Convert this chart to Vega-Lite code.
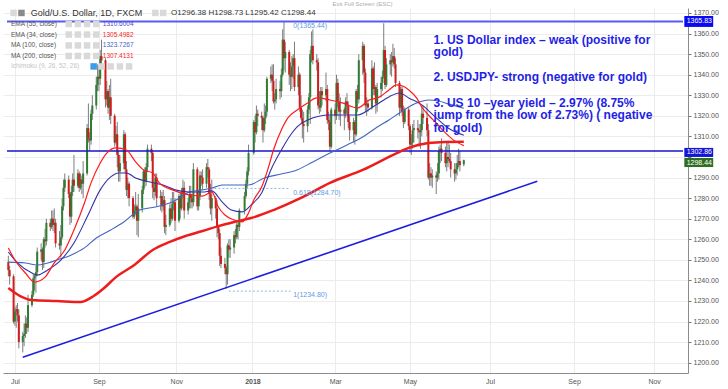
{
"$schema": "https://vega.github.io/schema/vega-lite/v6.json",
"width": 685, "height": 365,
"autosize": {"type": "none"},
"padding": {"left": 3, "top": 8, "right": 40, "bottom": 16},
"background": "#ffffff",
"config": {"view": {"stroke": null}, "font": "Liberation Sans", "axis": {"labelOverlap": false}},
"resolve": {"scale": {"color": "independent"}},
"encoding": {
"x": {"field": "d", "type": "temporal",
"scale": {"type": "utc", "domain": [{"year":2017,"month":6,"date":28,"hours":18,"utc":true},{"year":2018,"month":11,"date":25,"utc":true}], "nice": false},
"axis": {"orient": "bottom", "title": null,
"values": [{"year":2017,"month":7,"date":4,"utc":true},{"year":2017,"month":9,"date":6,"utc":true},{"year":2017,"month":11,"date":4,"utc":true},{"year":2018,"month":1,"date":1,"utc":true},{"year":2018,"month":3,"date":5,"utc":true},{"year":2018,"month":5,"date":1,"utc":true},{"year":2018,"month":7,"date":1,"utc":true},{"year":2018,"month":9,"date":3,"utc":true},{"year":2018,"month":11,"date":3,"utc":true}],
"labelExpr": "utcmonth(datum.value) == 0 ? utcFormat(datum.value, '%Y') : utcFormat(datum.value, '%b')",
"labelFontWeight": {"condition": {"test": "utcmonth(datum.value) == 0", "value": "bold"}, "value": "normal"},
"grid": true, "gridColor": "#ececec", "domainColor": "#8c8c8c", "ticks": false,
"labelPadding": 4, "labelFontSize": 7, "labelColor": "#555555", "labelFlush": false, "labelOverlap": false}},
"y": {"field": "p", "type": "quantitative",
"scale": {"domain": [1195, 1372.4], "nice": false, "zero": false},
"axis": {"orient": "right", "title": null,
"values": [1200,1210,1220,1230,1240,1250,1260,1270,1280,1290,1300,1310,1320,1330,1340,1350,1360,1370],
"labelExpr": "datum.value == 1300 ? '' : format(datum.value, '.2f')",
"grid": true, "gridColor": "#ececec", "domainColor": "#8c8c8c",
"tickColor": "#777777", "tickSize": 3, "labelPadding": 2, "labelFontSize": 7, "labelColor": "#555555", "labelFlush": false, "labelOverlap": false}}
},
"datasets": {
"c": [
{"d":"2017-06-29","o":1249,"h":1252,"l":1242,"c":1245},
{"d":"2017-06-30","o":1245,"h":1247,"l":1238,"c":1242},
{"d":"2017-07-03","o":1242,"h":1243,"l":1219,"c":1220},
{"d":"2017-07-04","o":1220,"h":1227,"l":1218,"c":1225},
{"d":"2017-07-05","o":1225,"h":1228,"l":1217,"c":1226},
{"d":"2017-07-06","o":1226,"h":1229,"l":1220,"c":1223},
{"d":"2017-07-07","o":1223,"h":1226,"l":1207,"c":1210},
{"d":"2017-07-10","o":1210,"h":1215,"l":1205,"c":1213},
{"d":"2017-07-11","o":1213,"h":1219,"l":1208,"c":1214},
{"d":"2017-07-12","o":1214,"h":1223,"l":1212,"c":1219},
{"d":"2017-07-13","o":1219,"h":1222,"l":1214,"c":1217},
{"d":"2017-07-14","o":1217,"h":1233,"l":1215,"c":1228},
{"d":"2017-07-17","o":1228,"h":1235,"l":1227,"c":1233},
{"d":"2017-07-18","o":1233,"h":1243,"l":1232,"c":1241},
{"d":"2017-07-19","o":1241,"h":1243,"l":1235,"c":1242},
{"d":"2017-07-20","o":1242,"h":1247,"l":1234,"c":1244},
{"d":"2017-07-21","o":1244,"h":1256,"l":1242,"c":1254},
{"d":"2017-07-24","o":1254,"h":1258,"l":1250,"c":1255},
{"d":"2017-07-25","o":1255,"h":1256,"l":1245,"c":1249},
{"d":"2017-07-26","o":1249,"h":1261,"l":1246,"c":1260},
{"d":"2017-07-27","o":1260,"h":1265,"l":1256,"c":1259},
{"d":"2017-07-28","o":1259,"h":1270,"l":1257,"c":1268},
{"d":"2017-07-31","o":1268,"h":1270,"l":1264,"c":1266},
{"d":"2017-08-01","o":1266,"h":1274,"l":1265,"c":1270},
{"d":"2017-08-02","o":1270,"h":1274,"l":1264,"c":1267},
{"d":"2017-08-03","o":1267,"h":1275,"l":1263,"c":1268},
{"d":"2017-08-04","o":1268,"h":1270,"l":1256,"c":1258},
{"d":"2017-08-07","o":1258,"h":1264,"l":1255,"c":1257},
{"d":"2017-08-08","o":1257,"h":1267,"l":1251,"c":1261},
{"d":"2017-08-09","o":1261,"h":1280,"l":1260,"c":1276},
{"d":"2017-08-10","o":1276,"h":1289,"l":1274,"c":1285},
{"d":"2017-08-11","o":1285,"h":1292,"l":1283,"c":1289},
{"d":"2017-08-14","o":1289,"h":1291,"l":1280,"c":1282},
{"d":"2017-08-15","o":1282,"h":1283,"l":1267,"c":1271},
{"d":"2017-08-16","o":1271,"h":1286,"l":1268,"c":1283},
{"d":"2017-08-17","o":1283,"h":1292,"l":1281,"c":1289},
{"d":"2017-08-18","o":1289,"h":1301,"l":1283,"c":1286},
{"d":"2017-08-21","o":1286,"h":1294,"l":1285,"c":1292},
{"d":"2017-08-22","o":1292,"h":1293,"l":1283,"c":1285},
{"d":"2017-08-23","o":1285,"h":1292,"l":1284,"c":1289},
{"d":"2017-08-24","o":1289,"h":1291,"l":1282,"c":1287},
{"d":"2017-08-25","o":1287,"h":1298,"l":1280,"c":1292},
{"d":"2017-08-28","o":1292,"h":1316,"l":1291,"c":1314},
{"d":"2017-08-29","o":1314,"h":1326,"l":1307,"c":1309},
{"d":"2017-08-30","o":1309,"h":1312,"l":1303,"c":1308},
{"d":"2017-08-31","o":1308,"h":1323,"l":1306,"c":1321},
{"d":"2017-09-01","o":1321,"h":1330,"l":1318,"c":1325},
{"d":"2017-09-04","o":1325,"h":1339,"l":1323,"c":1335},
{"d":"2017-09-05","o":1335,"h":1345,"l":1332,"c":1339},
{"d":"2017-09-06","o":1339,"h":1344,"l":1332,"c":1338},
{"d":"2017-09-07","o":1338,"h":1352,"l":1335,"c":1349},
{"d":"2017-09-08","o":1349,"h":1357,"l":1343,"c":1347},
{"d":"2017-09-11","o":1347,"h":1348,"l":1324,"c":1328},
{"d":"2017-09-12","o":1328,"h":1337,"l":1325,"c":1332},
{"d":"2017-09-13","o":1332,"h":1333,"l":1321,"c":1324},
{"d":"2017-09-14","o":1324,"h":1335,"l":1318,"c":1329},
{"d":"2017-09-15","o":1329,"h":1338,"l":1316,"c":1320},
{"d":"2017-09-18","o":1320,"h":1321,"l":1305,"c":1307},
{"d":"2017-09-19","o":1307,"h":1315,"l":1306,"c":1311},
{"d":"2017-09-20","o":1311,"h":1317,"l":1295,"c":1301},
{"d":"2017-09-21","o":1301,"h":1303,"l":1288,"c":1293},
{"d":"2017-09-22","o":1293,"h":1301,"l":1288,"c":1297},
{"d":"2017-09-25","o":1297,"h":1313,"l":1294,"c":1311},
{"d":"2017-09-26","o":1311,"h":1312,"l":1292,"c":1294},
{"d":"2017-09-27","o":1294,"h":1298,"l":1281,"c":1284},
{"d":"2017-09-28","o":1284,"h":1290,"l":1280,"c":1287},
{"d":"2017-09-29","o":1287,"h":1288,"l":1276,"c":1280},
{"d":"2017-10-02","o":1280,"h":1281,"l":1270,"c":1271},
{"d":"2017-10-03","o":1271,"h":1277,"l":1270,"c":1274},
{"d":"2017-10-04","o":1274,"h":1283,"l":1272,"c":1276},
{"d":"2017-10-05","o":1276,"h":1277,"l":1262,"c":1269},
{"d":"2017-10-06","o":1269,"h":1282,"l":1261,"c":1275},
{"d":"2017-10-09","o":1275,"h":1286,"l":1273,"c":1284},
{"d":"2017-10-10","o":1284,"h":1294,"l":1282,"c":1293},
{"d":"2017-10-11","o":1293,"h":1295,"l":1285,"c":1288},
{"d":"2017-10-12","o":1288,"h":1297,"l":1286,"c":1295},
{"d":"2017-10-13","o":1295,"h":1306,"l":1293,"c":1304},
{"d":"2017-10-16","o":1304,"h":1306,"l":1298,"c":1302},
{"d":"2017-10-17","o":1302,"h":1303,"l":1280,"c":1285},
{"d":"2017-10-18","o":1285,"h":1288,"l":1279,"c":1283},
{"d":"2017-10-19","o":1283,"h":1292,"l":1281,"c":1290},
{"d":"2017-10-20","o":1290,"h":1292,"l":1276,"c":1280},
{"d":"2017-10-23","o":1280,"h":1284,"l":1274,"c":1281},
{"d":"2017-10-24","o":1281,"h":1283,"l":1273,"c":1276},
{"d":"2017-10-25","o":1276,"h":1284,"l":1274,"c":1279},
{"d":"2017-10-26","o":1279,"h":1281,"l":1263,"c":1266},
{"d":"2017-10-27","o":1266,"h":1272,"l":1262,"c":1267},
{"d":"2017-10-30","o":1267,"h":1277,"l":1266,"c":1275},
{"d":"2017-10-31","o":1275,"h":1280,"l":1268,"c":1270},
{"d":"2017-11-01","o":1270,"h":1283,"l":1269,"c":1277},
{"d":"2017-11-02","o":1277,"h":1283,"l":1274,"c":1278},
{"d":"2017-11-03","o":1278,"h":1280,"l":1264,"c":1269},
{"d":"2017-11-06","o":1269,"h":1282,"l":1268,"c":1281},
{"d":"2017-11-07","o":1281,"h":1283,"l":1270,"c":1275},
{"d":"2017-11-08","o":1275,"h":1285,"l":1274,"c":1282},
{"d":"2017-11-09","o":1282,"h":1289,"l":1280,"c":1285},
{"d":"2017-11-10","o":1285,"h":1288,"l":1270,"c":1274},
{"d":"2017-11-13","o":1274,"h":1280,"l":1272,"c":1278},
{"d":"2017-11-14","o":1278,"h":1286,"l":1275,"c":1282},
{"d":"2017-11-15","o":1282,"h":1286,"l":1275,"c":1280},
{"d":"2017-11-16","o":1280,"h":1282,"l":1275,"c":1278},
{"d":"2017-11-17","o":1278,"h":1297,"l":1276,"c":1294},
{"d":"2017-11-20","o":1294,"h":1295,"l":1274,"c":1276},
{"d":"2017-11-21","o":1276,"h":1284,"l":1274,"c":1281},
{"d":"2017-11-22","o":1281,"h":1293,"l":1279,"c":1291},
{"d":"2017-11-23","o":1291,"h":1293,"l":1286,"c":1290},
{"d":"2017-11-24","o":1290,"h":1294,"l":1284,"c":1287},
{"d":"2017-11-27","o":1287,"h":1297,"l":1285,"c":1295},
{"d":"2017-11-28","o":1295,"h":1299,"l":1290,"c":1294},
{"d":"2017-11-29","o":1294,"h":1295,"l":1279,"c":1282},
{"d":"2017-11-30","o":1282,"h":1287,"l":1272,"c":1275},
{"d":"2017-12-01","o":1275,"h":1289,"l":1269,"c":1280},
{"d":"2017-12-04","o":1280,"h":1281,"l":1270,"c":1275},
{"d":"2017-12-05","o":1275,"h":1279,"l":1261,"c":1266},
{"d":"2017-12-06","o":1266,"h":1267,"l":1260,"c":1263},
{"d":"2017-12-07","o":1263,"h":1265,"l":1247,"c":1252},
{"d":"2017-12-08","o":1252,"h":1256,"l":1246,"c":1248},
{"d":"2017-12-11","o":1248,"h":1251,"l":1243,"c":1246},
{"d":"2017-12-12","o":1246,"h":1247,"l":1236,"c":1243},
{"d":"2017-12-13","o":1243,"h":1258,"l":1238,"c":1257},
{"d":"2017-12-14","o":1257,"h":1260,"l":1251,"c":1255},
{"d":"2017-12-15","o":1255,"h":1260,"l":1251,"c":1256},
{"d":"2017-12-18","o":1256,"h":1264,"l":1253,"c":1262},
{"d":"2017-12-19","o":1262,"h":1265,"l":1258,"c":1261},
{"d":"2017-12-20","o":1261,"h":1268,"l":1260,"c":1267},
{"d":"2017-12-21","o":1267,"h":1269,"l":1260,"c":1266},
{"d":"2017-12-22","o":1266,"h":1275,"l":1264,"c":1274},
{"d":"2017-12-26","o":1274,"h":1283,"l":1272,"c":1281},
{"d":"2017-12-27","o":1281,"h":1289,"l":1280,"c":1287},
{"d":"2017-12-28","o":1287,"h":1295,"l":1285,"c":1293},
{"d":"2017-12-29","o":1293,"h":1306,"l":1291,"c":1302},
{"d":"2018-01-02","o":1302,"h":1318,"l":1301,"c":1317},
{"d":"2018-01-03","o":1317,"h":1320,"l":1307,"c":1312},
{"d":"2018-01-04","o":1312,"h":1325,"l":1311,"c":1321},
{"d":"2018-01-05","o":1321,"h":1323,"l":1315,"c":1320},
{"d":"2018-01-08","o":1320,"h":1322,"l":1313,"c":1319},
{"d":"2018-01-09","o":1319,"h":1320,"l":1307,"c":1313},
{"d":"2018-01-10","o":1313,"h":1326,"l":1312,"c":1319},
{"d":"2018-01-11","o":1319,"h":1325,"l":1316,"c":1322},
{"d":"2018-01-12","o":1322,"h":1339,"l":1320,"c":1338},
{"d":"2018-01-15","o":1338,"h":1344,"l":1336,"c":1340},
{"d":"2018-01-16","o":1340,"h":1345,"l":1332,"c":1337},
{"d":"2018-01-17","o":1337,"h":1345,"l":1326,"c":1327},
{"d":"2018-01-18","o":1327,"h":1331,"l":1323,"c":1328},
{"d":"2018-01-19","o":1328,"h":1338,"l":1326,"c":1333},
{"d":"2018-01-22","o":1333,"h":1337,"l":1328,"c":1332},
{"d":"2018-01-23","o":1332,"h":1343,"l":1329,"c":1340},
{"d":"2018-01-24","o":1340,"h":1362,"l":1339,"c":1357},
{"d":"2018-01-25","o":1357,"h":1366,"l":1342,"c":1348},
{"d":"2018-01-26","o":1348,"h":1356,"l":1341,"c":1351},
{"d":"2018-01-29","o":1351,"h":1352,"l":1335,"c":1340},
{"d":"2018-01-30","o":1340,"h":1346,"l":1332,"c":1339},
{"d":"2018-01-31","o":1339,"h":1349,"l":1333,"c":1344},
{"d":"2018-02-01","o":1344,"h":1350,"l":1338,"c":1348},
{"d":"2018-02-02","o":1348,"h":1356,"l":1332,"c":1334},
{"d":"2018-02-05","o":1334,"h":1344,"l":1330,"c":1340},
{"d":"2018-02-06","o":1340,"h":1341,"l":1322,"c":1324},
{"d":"2018-02-07","o":1324,"h":1330,"l":1318,"c":1319},
{"d":"2018-02-08","o":1319,"h":1323,"l":1309,"c":1316},
{"d":"2018-02-09","o":1316,"h":1322,"l":1307,"c":1315},
{"d":"2018-02-12","o":1315,"h":1325,"l":1312,"c":1323},
{"d":"2018-02-13","o":1323,"h":1331,"l":1321,"c":1329},
{"d":"2018-02-14","o":1329,"h":1352,"l":1316,"c":1350},
{"d":"2018-02-15","o":1350,"h":1361,"l":1346,"c":1354},
{"d":"2018-02-16","o":1354,"h":1362,"l":1345,"c":1347},
{"d":"2018-02-19","o":1347,"h":1350,"l":1342,"c":1346},
{"d":"2018-02-20","o":1346,"h":1348,"l":1323,"c":1325},
{"d":"2018-02-21","o":1325,"h":1332,"l":1321,"c":1324},
{"d":"2018-02-22","o":1324,"h":1334,"l":1322,"c":1332},
{"d":"2018-02-23","o":1332,"h":1334,"l":1325,"c":1330},
{"d":"2018-02-26","o":1330,"h":1341,"l":1327,"c":1333},
{"d":"2018-02-27","o":1333,"h":1335,"l":1316,"c":1318},
{"d":"2018-02-28","o":1318,"h":1322,"l":1313,"c":1317},
{"d":"2018-03-01","o":1317,"h":1320,"l":1303,"c":1305},
{"d":"2018-03-02","o":1305,"h":1324,"l":1304,"c":1323},
{"d":"2018-03-05","o":1323,"h":1326,"l":1316,"c":1320},
{"d":"2018-03-06","o":1320,"h":1340,"l":1318,"c":1336},
{"d":"2018-03-07","o":1336,"h":1338,"l":1324,"c":1327},
{"d":"2018-03-08","o":1327,"h":1331,"l":1318,"c":1322},
{"d":"2018-03-09","o":1322,"h":1329,"l":1315,"c":1323},
{"d":"2018-03-12","o":1323,"h":1324,"l":1313,"c":1321},
{"d":"2018-03-13","o":1321,"h":1329,"l":1319,"c":1327},
{"d":"2018-03-14","o":1327,"h":1331,"l":1321,"c":1325},
{"d":"2018-03-15","o":1325,"h":1327,"l":1314,"c":1317},
{"d":"2018-03-16","o":1317,"h":1320,"l":1308,"c":1313},
{"d":"2018-03-19","o":1313,"h":1319,"l":1307,"c":1317},
{"d":"2018-03-20","o":1317,"h":1318,"l":1306,"c":1311},
{"d":"2018-03-21","o":1311,"h":1333,"l":1310,"c":1332},
{"d":"2018-03-22","o":1332,"h":1335,"l":1322,"c":1328},
{"d":"2018-03-23","o":1328,"h":1350,"l":1326,"c":1347},
{"d":"2018-03-26","o":1347,"h":1356,"l":1340,"c":1354},
{"d":"2018-03-27","o":1354,"h":1355,"l":1336,"c":1341},
{"d":"2018-03-28","o":1341,"h":1343,"l":1322,"c":1325},
{"d":"2018-03-29","o":1325,"h":1329,"l":1320,"c":1326},
{"d":"2018-03-30","o":1326,"h":1328,"l":1322,"c":1324},
{"d":"2018-04-02","o":1324,"h":1347,"l":1323,"c":1343},
{"d":"2018-04-03","o":1343,"h":1344,"l":1330,"c":1333},
{"d":"2018-04-04","o":1333,"h":1346,"l":1330,"c":1334},
{"d":"2018-04-05","o":1334,"h":1335,"l":1321,"c":1326},
{"d":"2018-04-06","o":1326,"h":1336,"l":1322,"c":1333},
{"d":"2018-04-09","o":1333,"h":1339,"l":1329,"c":1336},
{"d":"2018-04-10","o":1336,"h":1342,"l":1332,"c":1339},
{"d":"2018-04-11","o":1339,"h":1365,"l":1338,"c":1352},
{"d":"2018-04-12","o":1352,"h":1354,"l":1333,"c":1335},
{"d":"2018-04-13","o":1335,"h":1348,"l":1334,"c":1345},
{"d":"2018-04-16","o":1345,"h":1350,"l":1340,"c":1347},
{"d":"2018-04-17","o":1347,"h":1351,"l":1339,"c":1346},
{"d":"2018-04-18","o":1346,"h":1355,"l":1344,"c":1349},
{"d":"2018-04-19","o":1349,"h":1353,"l":1343,"c":1345},
{"d":"2018-04-20","o":1345,"h":1348,"l":1334,"c":1336},
{"d":"2018-04-23","o":1336,"h":1337,"l":1320,"c":1324},
{"d":"2018-04-24","o":1324,"h":1334,"l":1322,"c":1333},
{"d":"2018-04-25","o":1333,"h":1334,"l":1320,"c":1322},
{"d":"2018-04-26","o":1322,"h":1325,"l":1314,"c":1317},
{"d":"2018-04-27","o":1317,"h":1324,"l":1316,"c":1323},
{"d":"2018-04-30","o":1323,"h":1324,"l":1313,"c":1315},
{"d":"2018-05-01","o":1315,"h":1316,"l":1302,"c":1306},
{"d":"2018-05-02","o":1306,"h":1311,"l":1301,"c":1307},
{"d":"2018-05-03","o":1307,"h":1316,"l":1304,"c":1313},
{"d":"2018-05-04","o":1313,"h":1318,"l":1307,"c":1314},
{"d":"2018-05-07","o":1314,"h":1318,"l":1309,"c":1313},
{"d":"2018-05-08","o":1313,"h":1316,"l":1305,"c":1312},
{"d":"2018-05-09","o":1312,"h":1316,"l":1304,"c":1313},
{"d":"2018-05-10","o":1313,"h":1325,"l":1310,"c":1321},
{"d":"2018-05-11","o":1321,"h":1325,"l":1316,"c":1319},
{"d":"2018-05-14","o":1319,"h":1326,"l":1310,"c":1313},
{"d":"2018-05-15","o":1313,"h":1316,"l":1289,"c":1290},
{"d":"2018-05-16","o":1290,"h":1297,"l":1286,"c":1292},
{"d":"2018-05-17","o":1292,"h":1295,"l":1286,"c":1290},
{"d":"2018-05-18","o":1290,"h":1294,"l":1285,"c":1291},
{"d":"2018-05-21","o":1291,"h":1293,"l":1282,"c":1290},
{"d":"2018-05-22","o":1290,"h":1297,"l":1288,"c":1292},
{"d":"2018-05-23","o":1292,"h":1305,"l":1289,"c":1303},
{"d":"2018-05-24","o":1303,"h":1306,"l":1297,"c":1304},
{"d":"2018-05-25","o":1304,"h":1309,"l":1298,"c":1302},
{"d":"2018-05-28","o":1302,"h":1305,"l":1295,"c":1297},
{"d":"2018-05-29","o":1297,"h":1307,"l":1293,"c":1300},
{"d":"2018-05-30","o":1300,"h":1308,"l":1295,"c":1299},
{"d":"2018-05-31","o":1299,"h":1306,"l":1297,"c":1298},
{"d":"2018-06-01","o":1298,"h":1302,"l":1290,"c":1294},
{"d":"2018-06-04","o":1294,"h":1297,"l":1288,"c":1292},
{"d":"2018-06-05","o":1292,"h":1297,"l":1289,"c":1294},
{"d":"2018-06-06","o":1294,"h":1301,"l":1291,"c":1297},
{"d":"2018-06-07","o":1297,"h":1304,"l":1295,"c":1298},
{"d":"2018-06-08","o":1298,"h":1303,"l":1293,"c":1296},
{"d":"2018-06-11","o":1296.38,"h":1298.73,"l":1295.42,"c":1298.44}
],
"ema34": [
{"d":"2017-06-29","p":1255.8},{"d":"2017-07-04","p":1249.9},{"d":"2017-07-12","p":1243.6},{"d":"2017-07-19","p":1239.2},{"d":"2017-07-27","p":1241.6},{"d":"2017-08-03","p":1248.5},{"d":"2017-08-11","p":1254.8},{"d":"2017-08-18","p":1264.5},{"d":"2017-08-26","p":1277.6},{"d":"2017-08-31","p":1287.4},{"d":"2017-09-07","p":1297.1},{"d":"2017-09-12","p":1301.9},{"d":"2017-09-19","p":1304.4},{"d":"2017-09-27","p":1303.4},{"d":"2017-10-04","p":1297.6},{"d":"2017-10-10","p":1293.7},{"d":"2017-10-17","p":1292.2},{"d":"2017-10-22","p":1287.4},{"d":"2017-11-01","p":1284.0},{"d":"2017-11-14","p":1281.5},{"d":"2017-11-24","p":1281.0},{"d":"2017-12-01","p":1283.0},{"d":"2017-12-06","p":1275.7},{"d":"2017-12-11","p":1271.8},{"d":"2017-12-18","p":1269.4},{"d":"2017-12-24","p":1268.4},{"d":"2017-12-29","p":1272.8},{"d":"2018-01-02","p":1279.1},{"d":"2018-01-08","p":1285.4},{"d":"2018-01-13","p":1294.6},{"d":"2018-01-17","p":1303.4},{"d":"2018-01-23","p":1313.1},{"d":"2018-01-28","p":1319.0},{"d":"2018-02-04","p":1322.8},{"d":"2018-02-12","p":1326.2},{"d":"2018-02-19","p":1328.7},{"d":"2018-03-01","p":1327.7},{"d":"2018-03-11","p":1326.2},{"d":"2018-03-22","p":1323.8},{"d":"2018-03-31","p":1327.7},{"d":"2018-04-08","p":1329.2},{"d":"2018-04-15","p":1332.6},{"d":"2018-04-21","p":1335.0},{"d":"2018-04-27","p":1334.0},{"d":"2018-04-30","p":1332.6},{"d":"2018-05-06","p":1328.7},{"d":"2018-05-10","p":1324.3},{"d":"2018-05-15","p":1320.4},{"d":"2018-05-21","p":1316.5},{"d":"2018-05-28","p":1311.7},{"d":"2018-06-03","p":1308.3},{"d":"2018-06-11","p":1305.5}
],
"ema55": [
{"d":"2017-06-29","p":1253.8},{"d":"2017-07-06","p":1248.5},{"d":"2017-07-17","p":1243.6},{"d":"2017-07-21","p":1242.6},{"d":"2017-07-29","p":1245.1},{"d":"2017-08-08","p":1249.9},{"d":"2017-08-18","p":1258.2},{"d":"2017-08-28","p":1270.8},{"d":"2017-09-07","p":1284.0},{"d":"2017-09-15","p":1290.3},{"d":"2017-09-21","p":1292.2},{"d":"2017-09-27","p":1292.2},{"d":"2017-10-04","p":1289.8},{"d":"2017-10-15","p":1287.8},{"d":"2017-10-25","p":1286.4},{"d":"2017-11-03","p":1284.0},{"d":"2017-11-14","p":1283.0},{"d":"2017-11-24","p":1283.0},{"d":"2017-12-01","p":1283.5},{"d":"2017-12-09","p":1278.1},{"d":"2017-12-16","p":1274.2},{"d":"2017-12-24","p":1273.3},{"d":"2017-12-31","p":1276.7},{"d":"2018-01-08","p":1282.5},{"d":"2018-01-15","p":1293.7},{"d":"2018-01-23","p":1303.4},{"d":"2018-01-30","p":1310.7},{"d":"2018-02-04","p":1314.6},{"d":"2018-02-12","p":1318.0},{"d":"2018-03-01","p":1320.4},{"d":"2018-03-22","p":1320.4},{"d":"2018-04-05","p":1325.3},{"d":"2018-04-15","p":1329.2},{"d":"2018-04-23","p":1331.1},{"d":"2018-04-30","p":1328.7},{"d":"2018-05-10","p":1325.3},{"d":"2018-05-21","p":1319.0},{"d":"2018-05-30","p":1314.1},{"d":"2018-06-11","p":1310.6}
],
"ma100": [
{"d":"2017-06-29","p":1248.9},{"d":"2017-07-12","p":1248.5},{"d":"2017-07-21","p":1247.5},{"d":"2017-07-29","p":1248.5},{"d":"2017-08-05","p":1249.9},{"d":"2017-08-16","p":1252.4},{"d":"2017-08-26","p":1255.8},{"d":"2017-09-04","p":1260.6},{"d":"2017-09-15","p":1264.5},{"d":"2017-09-25","p":1268.4},{"d":"2017-10-07","p":1274.2},{"d":"2017-10-19","p":1275.7},{"d":"2017-11-01","p":1278.1},{"d":"2017-11-14","p":1283.0},{"d":"2017-11-24","p":1284.0},{"d":"2017-12-01","p":1284.9},{"d":"2017-12-09","p":1286.4},{"d":"2017-12-18","p":1286.4},{"d":"2017-12-29","p":1286.4},{"d":"2018-01-10","p":1289.8},{"d":"2018-01-23","p":1291.7},{"d":"2018-02-04","p":1293.7},{"d":"2018-02-16","p":1297.6},{"d":"2018-03-01","p":1301.9},{"d":"2018-03-14","p":1305.8},{"d":"2018-03-26","p":1309.7},{"d":"2018-04-05","p":1314.1},{"d":"2018-04-15","p":1318.0},{"d":"2018-04-23","p":1321.4},{"d":"2018-04-30","p":1324.3},{"d":"2018-05-08","p":1326.7},{"d":"2018-05-15","p":1327.7},{"d":"2018-05-23","p":1327.2},{"d":"2018-05-30","p":1325.8},{"d":"2018-06-11","p":1323.7}
],
"ma200": [
{"d":"2017-06-29","p":1236.3},{"d":"2017-07-08","p":1232.4},{"d":"2017-07-17","p":1230.5},{"d":"2017-08-05","p":1230.0},{"d":"2017-08-23","p":1229.5},{"d":"2017-09-02","p":1232.4},{"d":"2017-09-10","p":1236.3},{"d":"2017-09-19","p":1241.6},{"d":"2017-10-03","p":1247.5},{"d":"2017-10-17","p":1254.8},{"d":"2017-10-30","p":1258.7},{"d":"2017-11-11","p":1261.6},{"d":"2017-11-24","p":1264.0},{"d":"2017-12-06","p":1266.4},{"d":"2017-12-18","p":1268.4},{"d":"2017-12-31","p":1270.3},{"d":"2018-01-17","p":1274.2},{"d":"2018-02-07","p":1280.1},{"d":"2018-03-01","p":1287.4},{"d":"2018-03-26","p":1293.7},{"d":"2018-04-21","p":1301.9},{"d":"2018-04-30","p":1304.4},{"d":"2018-05-15","p":1306.8},{"d":"2018-05-28","p":1307.3},{"d":"2018-06-11","p":1307.4}
],
"levels": [{"d":"2017-06-28","d2":"2018-11-25","p":1365.83,"k":"a"},{"d":"2017-06-28","d2":"2018-11-25","p":1302.86,"k":"b"}],
"trend": [{"d":"2017-07-10","p":1202.6},{"d":"2018-08-06","p":1288.2}],
"fib": [{"d":"2017-12-03","d2":"2018-01-30","p":1284.7},{"d":"2017-12-14","d2":"2018-01-30","p":1234.8}],
"fibtxt": [{"d":"2018-02-01","p":1363.7,"t":"0(1365.44)"},{"d":"2018-02-01","p":1282.5,"t":"0.618(1284.70)"},{"d":"2018-02-01","p":1232.9,"t":"1(1234.80)"}],
"notes": [
{"d":"2018-05-19","p":1356.9,"t":"1. US Dollar index – weak (positive for"},
{"d":"2018-05-19","p":1350.8,"t":"gold)"},
{"d":"2018-05-19","p":1338.9,"t":"2. USDJPY- strong (negative for gold)"},
{"d":"2018-05-19","p":1326.4,"t":"3. US 10 –year yield – 2.97% (8.75%"},
{"d":"2018-05-19","p":1320.2,"t":"jump from the low of 2.73%) ( negative"},
{"d":"2018-05-19","p":1314.0,"t":"for gold)"}
],
"leg": [
{"d":"2017-07-01","p":1364.6,"t":"EMA (55, close)"},
{"d":"2017-07-01","p":1359.5,"t":"EMA (34, close)"},
{"d":"2017-07-01","p":1354.2,"t":"MA (100, close)"},
{"d":"2017-07-01","p":1349.1,"t":"MA (200, close)"}
],
"legval": [
{"d":"2017-09-09","p":1364.6,"t":"1310.6004","k":"e55"},
{"d":"2017-09-09","p":1359.5,"t":"1305.4982","k":"e34"},
{"d":"2017-09-09","p":1354.2,"t":"1323.7267","k":"m100"},
{"d":"2017-09-09","p":1349.1,"t":"1307.4131","k":"m200"}
],
"icons": [
{"d":"2017-08-14","p":1364.6,"k":"g"},{"d":"2017-08-21","p":1364.6,"k":"g"},{"d":"2017-08-28","p":1364.6,"k":"g"},{"d":"2017-09-04","p":1364.6,"k":"g"},
{"d":"2017-08-14","p":1359.5,"k":"g"},{"d":"2017-08-21","p":1359.5,"k":"g"},{"d":"2017-08-28","p":1359.5,"k":"g"},{"d":"2017-09-04","p":1359.5,"k":"g"},
{"d":"2017-08-14","p":1354.2,"k":"g"},{"d":"2017-08-21","p":1354.2,"k":"g"},{"d":"2017-08-28","p":1354.2,"k":"g"},{"d":"2017-09-04","p":1354.2,"k":"g"},
{"d":"2017-08-14","p":1349.1,"k":"g"},{"d":"2017-08-21","p":1349.1,"k":"g"},{"d":"2017-08-28","p":1349.1,"k":"g"},{"d":"2017-09-04","p":1349.1,"k":"g"},
{"d":"2017-09-02","p":1344.0,"k":"b"},{"d":"2017-09-08","p":1344.0,"k":"g"},{"d":"2017-09-15","p":1344.0,"k":"g"},{"d":"2017-09-22","p":1344.0,"k":"g"},{"d":"2017-09-29","p":1344.0,"k":"g"},
{"d":"2017-07-03","p":1370.0,"k":"g"},{"d":"2017-07-09","p":1370.0,"k":"d"},{"d":"2017-10-19","p":1370.0,"k":"g"},{"d":"2017-10-25","p":1370.0,"k":"g"}
],
"boxes": [
{"d":"2018-11-26","d2":"2018-12-18","p":1368.5,"p2":1363.2,"k":"a"},
{"d":"2018-11-26","d2":"2018-12-18","p":1304.4,"p2":1300.0,"k":"b"},
{"d":"2018-11-26","d2":"2018-12-18","p":1299.5,"p2":1295.1,"k":"g"}
],
"boxtxt": [
{"d":"2018-11-26","p":1365.85,"t":"1365.83"},
{"d":"2018-11-26","p":1302.2,"t":"1302.86"},
{"d":"2018-11-26","p":1297.3,"t":"1298.44"}
]
},
"layer": [
{
"data": {"name": "c"},
"mark": {"type": "rule", "color": "#7d7d7d", "strokeWidth": 1},
"encoding": {
"y": {"field": "l", "type": "quantitative",
"scale": {"domain": [1195, 1372.4], "nice": false, "zero": false},
"axis": {"orient": "right", "title": null,
"values": [1200,1210,1220,1230,1240,1250,1260,1270,1280,1290,1300,1310,1320,1330,1340,1350,1360,1370],
"labelExpr": "datum.value == 1300 ? '' : format(datum.value, '.2f')",
"grid": true, "gridColor": "#ececec", "domainColor": "#8c8c8c",
"tickColor": "#777777", "tickSize": 3, "labelPadding": 2, "labelFontSize": 7, "labelColor": "#555555", "labelFlush": false, "labelOverlap": false}},
"y2": {"field": "h"}
}
},
{
"data": {"name": "c"},
"mark": {"type": "bar", "size": 2},
"encoding": {
"y": {"field": "o", "type": "quantitative",
"scale": {"domain": [1195, 1372.4], "nice": false, "zero": false},
"axis": {"orient": "right", "title": null,
"values": [1200,1210,1220,1230,1240,1250,1260,1270,1280,1290,1300,1310,1320,1330,1340,1350,1360,1370],
"labelExpr": "datum.value == 1300 ? '' : format(datum.value, '.2f')",
"grid": true, "gridColor": "#ececec", "domainColor": "#8c8c8c",
"tickColor": "#777777", "tickSize": 3, "labelPadding": 2, "labelFontSize": 7, "labelColor": "#555555", "labelFlush": false, "labelOverlap": false}},
"y2": {"field": "c"},
"color": {"condition": {"test": "datum.c >= datum.o", "value": "#2e7d32"}, "value": "#d01c1c"}
}
},
{
"data": {"name": "levels"},
"mark": {"type": "rule"},
"encoding": {
"x2": {"field": "d2"},
"color": {"field": "k", "type": "nominal", "scale": {"domain": ["a", "b"], "range": ["#5a5af2", "#1414cc"]}, "legend": null},
"strokeWidth": {"field": "k", "type": "nominal", "scale": {"domain": ["a", "b"], "range": [2, 1.5]}, "legend": null}
}
},
{
"data": {"name": "fib"},
"mark": {"type": "rule", "color": "#8db6ea", "strokeWidth": 1, "strokeDash": [2, 2]},
"encoding": {"x2": {"field": "d2"}}
},
{
"data": {"name": "trend"},
"mark": {"type": "line", "color": "#1d1de0", "strokeWidth": 1.6},
"encoding": {}
},
{
"data": {"name": "ma200"},
"mark": {"type": "line", "color": "#ee1c1c", "strokeWidth": 2.5, "interpolate": "monotone"},
"encoding": {}
},
{
"data": {"name": "ma100"},
"mark": {"type": "line", "color": "#3f66c4", "strokeWidth": 1.1, "interpolate": "monotone"},
"encoding": {}
},
{
"data": {"name": "ema55"},
"mark": {"type": "line", "color": "#3232a8", "strokeWidth": 1.1, "interpolate": "monotone"},
"encoding": {}
},
{
"data": {"name": "ema34"},
"mark": {"type": "line", "color": "#ff1a1a", "strokeWidth": 1.2, "interpolate": "monotone"},
"encoding": {}
},
{
"data": {"name": "fibtxt"},
"mark": {"type": "text", "align": "left", "baseline": "middle", "fontSize": 7, "color": "#5f9be0"},
"encoding": {"text": {"field": "t"}}
},
{
"data": {"name": "notes"},
"mark": {"type": "text", "align": "left", "baseline": "middle", "fontSize": 12, "fontWeight": "bold", "color": "#1f1fe6", "font": "Liberation Sans"},
"encoding": {"text": {"field": "t"}}
},
{
"data": {"name": "icons"},
"mark": {"type": "point", "shape": "square", "filled": true, "size": 42, "opacity": 1},
"encoding": {
"color": {"field": "k", "type": "nominal", "scale": {"domain": ["g", "b", "d"], "range": ["#d9d9d9", "#3d9be9", "#8a8a8a"]}, "legend": null}
}
},
{
"data": {"values": [{"d": "2017-07-16", "p": 1370.0, "t": "Gold/U.S. Dollar, 1D, FXCM"}]},
"mark": {"type": "text", "align": "left", "baseline": "middle", "fontSize": 9, "color": "#333333"},
"encoding": {"text": {"field": "t"}}
},
{
"data": {"values": [{"d": "2017-10-31", "p": 1370.0, "t": "O1296.38  H1298.73  L1295.42  C1298.44"}]},
"mark": {"type": "text", "align": "left", "baseline": "middle", "fontSize": 8, "color": "#333333"},
"encoding": {"text": {"field": "t"}}
},
{
"data": {"name": "leg"},
"mark": {"type": "text", "align": "left", "baseline": "middle", "fontSize": 6.5, "color": "#555555"},
"encoding": {"text": {"field": "t"}}
},
{
"data": {"values": [{"d": "2017-07-01", "p": 1344.0, "t": "Ichimoku (9, 26, 52, 26)"}]},
"mark": {"type": "text", "align": "left", "baseline": "middle", "fontSize": 6.5, "color": "#c4c4c4"},
"encoding": {"text": {"field": "t"}}
},
{
"data": {"name": "legval"},
"mark": {"type": "text", "align": "left", "baseline": "middle", "fontSize": 6.5},
"encoding": {
"text": {"field": "t"},
"color": {"field": "k", "type": "nominal", "scale": {"domain": ["e55", "e34", "m100", "m200"], "range": ["#4b4bc8", "#f02828", "#3f63c6", "#f02828"]}, "legend": null}
}
},
{
"data": {"values": [{"d": "2018-03-03", "p": 1374.4, "t": "Exit Full Screen (ESC)"}]},
"mark": {"type": "text", "align": "left", "baseline": "middle", "fontSize": 6, "color": "#aaaaaa"},
"encoding": {"text": {"field": "t"}}
},
{
"data": {"name": "boxes"},
"mark": {"type": "rect"},
"encoding": {
"x2": {"field": "d2"},
"y2": {"field": "p2"},
"color": {"field": "k", "type": "nominal", "scale": {"domain": ["a", "b", "g"], "range": ["#0a0af0", "#1515d4", "#2f6d21"]}, "legend": null}
}
},
{
"data": {"name": "boxtxt"},
"mark": {"type": "text", "align": "center", "baseline": "middle", "fontSize": 7, "color": "#ffffff", "dx": 15},
"encoding": {"text": {"field": "t"}}
}
]
}
